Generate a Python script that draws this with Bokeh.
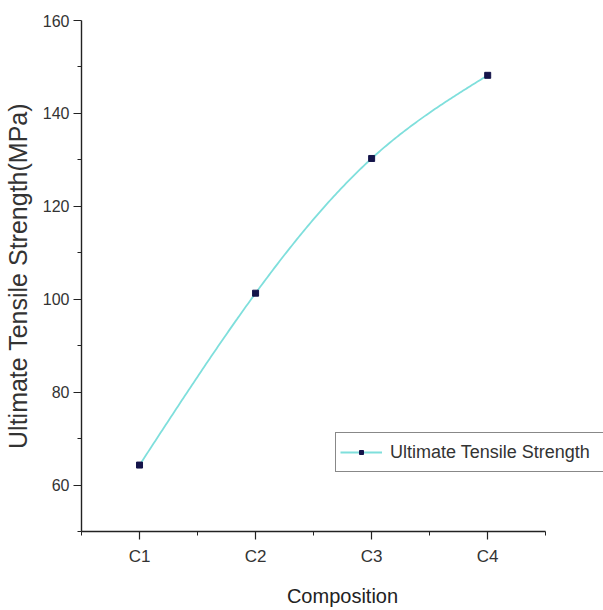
import numpy as np
from bokeh.plotting import figure
from bokeh.models import (Range1d, FixedTicker, Legend, LegendItem)
from bokeh.embed import file_html
from bokeh.resources import INLINE

# Ultimate tensile strength per composition
categories = ["C1", "C2", "C3", "C4"]
positions = [1, 2, 3, 4]
uts_mpa = [64.3, 101.3, 130.3, 148.2]

y_major = [60, 80, 100, 120, 140, 160]
y_minor = [50, 70, 90, 110, 130, 150]
x_minor = [0.5, 1.5, 2.5, 3.5, 4.5]

W, H = 603, 610
LEFT, RIGHT_AXIS_END = 79, 545
FONT = "Liberation Sans"


def natural_spline(xs, ys, n=200):
    """Natural cubic spline through the points, sampled for a smooth connecting line."""
    xs = np.asarray(xs, float)
    ys = np.asarray(ys, float)
    k = len(xs)
    h = np.diff(xs)
    A = np.zeros((k, k))
    r = np.zeros(k)
    A[0, 0] = A[-1, -1] = 1.0
    for i in range(1, k - 1):
        A[i, i - 1] = h[i - 1]
        A[i, i] = 2 * (h[i - 1] + h[i])
        A[i, i + 1] = h[i]
        r[i] = 3 * ((ys[i + 1] - ys[i]) / h[i] - (ys[i] - ys[i - 1]) / h[i - 1])
    c = np.linalg.solve(A, r)
    b = (np.diff(ys) / h) - h * (2 * c[:-1] + c[1:]) / 3
    d = np.diff(c) / (3 * h)
    xx = np.linspace(xs[0], xs[-1], n)
    idx = np.clip(np.searchsorted(xs, xx, side="right") - 1, 0, k - 2)
    t = xx - xs[idx]
    yy = ys[idx] + b[idx] * t + c[idx] * t ** 2 + d[idx] * t ** 3
    return xx, yy


# the frame runs to the window edge so the legend can overhang the axis end;
# the x axis itself is bounded to 0.5 .. 4.5
x_lo, x_hi = 0.5, 4.5
unit = (RIGHT_AXIS_END - LEFT) / (x_hi - x_lo)
x_end = x_lo + (W - LEFT) / unit

p = figure(width=W, height=H, output_backend="svg", toolbar_location=None,
           x_range=Range1d(x_lo, x_end), y_range=Range1d(50, 160),
           min_border_left=LEFT, min_border_right=0,
           min_border_top=20, min_border_bottom=79)

p.background_fill_color = "white"
p.border_fill_color = "white"
p.outline_line_color = None
p.xgrid.visible = False
p.ygrid.visible = False

sx, sy = natural_spline(positions, uts_mpa)
curve = p.line(sx, sy, line_color="#7fdfdc", line_width=1.8)
pts = p.scatter(positions, uts_mpa, marker="square", size=6,
                fill_color="#14144a", line_color="#14144a")

# x axis
xa = p.xaxis[0]
xa.bounds = (x_lo, x_hi)
xa.ticker = FixedTicker(ticks=positions, minor_ticks=x_minor)
xa.major_label_overrides = {pos: lab for pos, lab in zip(positions, categories)}
xa.axis_label = "Composition"
xa.axis_label_text_font = FONT
xa.axis_label_text_font_size = "20px"
xa.axis_label_text_font_style = "normal"
xa.axis_label_text_color = "#222222"
xa.axis_label_standoff = 16
xa.major_label_text_font = FONT
xa.major_label_text_font_size = "17px"
xa.major_label_text_color = "#333333"
xa.major_label_standoff = 7

# y axis
ya = p.yaxis[0]
ya.ticker = FixedTicker(ticks=y_major, minor_ticks=y_minor)
ya.axis_label = "Ultimate Tensile Strength(MPa)"
ya.axis_label_text_font = FONT
ya.axis_label_text_font_size = "25px"
ya.axis_label_text_font_style = "normal"
ya.axis_label_text_color = "#333333"
ya.axis_label_standoff = 8
ya.major_label_text_font = FONT
ya.major_label_text_font_size = "16px"
ya.major_label_text_color = "#333333"
ya.major_label_standoff = 4

for ax in (xa, ya):
    ax.axis_line_color = "#222222"
    ax.axis_line_width = 1.4
    ax.major_tick_line_color = "#222222"
    ax.major_tick_line_width = 1.2
    ax.minor_tick_line_color = "#222222"
    ax.minor_tick_line_width = 1.0
    ax.major_tick_in = 0
    ax.major_tick_out = 8
    ax.minor_tick_in = 0
    ax.minor_tick_out = 4

legend = Legend(items=[LegendItem(label="Ultimate Tensile Strength", renderers=[curve, pts])],
                location=(254, 59), orientation="vertical")
legend.padding = 4
legend.margin = 0
legend.spacing = 0
legend.glyph_width = 42
legend.glyph_height = 10
legend.label_height = 30
legend.label_width = 222
legend.label_standoff = 8
legend.label_text_font = FONT
legend.label_text_font_size = "18px"
legend.label_text_color = "#333333"
legend.border_line_color = "#111111"
legend.border_line_width = 1.4
legend.background_fill_color = "white"
legend.background_fill_alpha = 1.0
p.add_layout(legend, "center")

open("out.html", "w").write(file_html(p, INLINE))
